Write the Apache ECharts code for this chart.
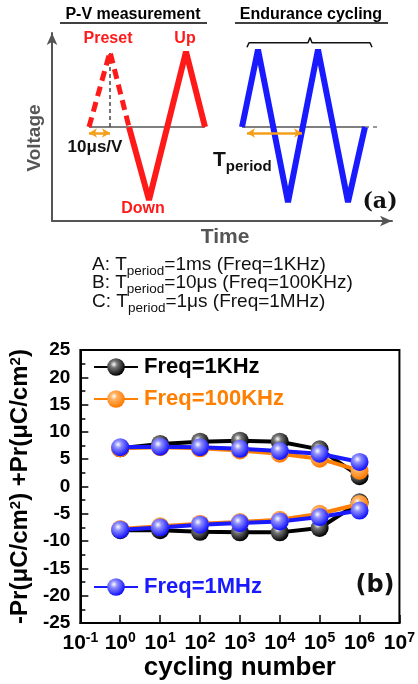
<!DOCTYPE html>
<html>
<head>
<meta charset="utf-8">
<script src="https://cdn.jsdelivr.net/npm/echarts@6/dist/echarts.min.js"></script>
<style>
html, body { margin: 0; padding: 0; background: #fff; }
#main { width: 418px; height: 684px; }
</style>
</head>
<body>
<div id="main"></div>
<script>
// (b) 数据：循环次数与剩余极化
var cycles = [1, 10, 100, 1000, 10000, 100000, 1000000];
var up1K = [7.0, 7.8, 8.2, 8.4, 8.2, 6.8, 1.9];
var down1K = [-8.0, -8.0, -8.3, -8.4, -8.4, -7.6, -2.9];
var up100K = [7.0, 7.2, 7.0, 6.6, 6.0, 5.1, 2.9];
var down100K = [-7.8, -7.3, -6.8, -6.5, -6.1, -5.0, -3.2];
var up1M = [7.2, 7.3, 7.2, 6.9, 6.5, 6.0, 4.5];
var down1M = [-7.9, -7.5, -7.0, -6.7, -6.4, -5.6, -4.4];
var legendNames = ['Freq=1KHz', 'Freq=100KHz', 'Freq=1MHz'];

// (a) 波形顶点：[时间, 电压]
var presetWave = [[1.85, 0], [2.9, 1], [3.85, 0]];
var pundWave = [[3.85, 0], [4.85, -0.97], [6.7, 1], [7.65, 0]];
var cyclingWave = [[9.5, 0], [10.3, 1.03], [11.8, -1.0], [13.3, 1.03], [14.8, -1.0], [15.65, 0]];
var pvBaseline = [[1.85, 0], [7.65, 0]];
var cycBaseline = [[9.5, 0], [15.65, 0]];
var cycBaselineTail = [[15.65, 0], [16.4, 0]];
var presetMarker = [[2.9, 0], [2.9, 1]];
var bracketPath = [[9.75, 1.06], [9.85, 1.12], [12.8, 1.12], [12.9, 1.19], [13.0, 1.12], [15.9, 1.12], [16.0, 1.06]];
var rampArrow = [1.85, 2.9, -0.08];
var periodArrow = [9.75, 12.5, -0.08];

var chart = echarts.init(document.getElementById('main'));

function pairs(xs, ys) {
    return xs.map(function (x, i) { return [x, ys[i]]; });
}

// 球形标记
function sphere(light, base) {
    return {
        type: 'radial', x: 0.38, y: 0.35, r: 0.65,
        colorStops: [
            {offset: 0, color: '#ffffff'},
            {offset: 0.3, color: light},
            {offset: 1, color: base}
        ]
    };
}

function cycSeries(name, ys, lineColor, light, base) {
    return {
        name: name,
        type: 'line',
        xAxisIndex: 1,
        yAxisIndex: 1,
        data: pairs(cycles, ys),
        symbol: 'circle',
        symbolSize: 18,
        lineStyle: {color: lineColor, width: 4},
        itemStyle: {color: sphere(light, base)},
        silent: true
    };
}

function waveSeries(data, color, width, type) {
    return {
        type: 'line',
        xAxisIndex: 0,
        yAxisIndex: 0,
        data: data,
        symbol: 'none',
        lineStyle: {color: color, width: width, type: type || 'solid'},
        silent: true
    };
}

function arrowSeries(a) {
    return {
        type: 'line',
        xAxisIndex: 0,
        yAxisIndex: 0,
        data: [],
        markLine: {
            silent: true,
            symbol: ['arrow', 'arrow'],
            symbolSize: [7, 8],
            label: {show: false},
            lineStyle: {color: '#f5a01a', width: 2.5, type: 'solid'},
            data: [[{coord: [a[0], a[2]]}, {coord: [a[1], a[2]]}]]
        }
    };
}

var sup = {fontSize: 14, fontWeight: 'bold', fontFamily: 'Liberation Sans', verticalAlign: 'top', lineHeight: 14, color: '#000'};

var option = {
    animation: false,
    backgroundColor: '#fff',
    grid: [
        {left: 52, right: 26, top: 33, bottom: 463},
        {left: 77, right: 14, top: 350, bottom: 61, show: true, borderColor: '#000', borderWidth: 2, backgroundColor: 'transparent'}
    ],
    legend: legendNames.map(function (n, i) {
        var tops = [356, 388, 576];
        var colors = ['#000', '#ff7f00', '#1a1aff'];
        return {
            data: [n],
            left: 93,
            top: tops[i],
            padding: 0,
            itemWidth: 44,
            itemHeight: 22,
            itemGap: 0,
            selectedMode: false,
            textStyle: {fontSize: 22, fontWeight: 'bold', fontFamily: 'Liberation Sans', color: colors[i], padding: [0, 0, 0, 1]}
        };
    }),
    xAxis: [
        {
            gridIndex: 0, type: 'value', min: 0, max: 17,
            axisLine: {onZero: false, lineStyle: {color: '#555', width: 2}, symbol: ['none', 'arrow'], symbolSize: [8, 12]},
            axisTick: {show: false}, axisLabel: {show: false}, splitLine: {show: false}
        },
        {
            gridIndex: 1, type: 'log', logBase: 10, min: 0.1, max: 10000000, splitNumber: 8,
            axisLine: {onZero: false, lineStyle: {color: '#000', width: 2}},
            axisTick: {inside: true, length: 8, lineStyle: {color: '#000', width: 1.5}},
            minorTick: {show: false},
            splitLine: {show: false},
            axisLabel: {
                margin: 8,
                formatter: function (v) {
                    var e = Math.round(Math.log(v) / Math.LN10);
                    return '{b|10}{s|' + e + '}';
                },
                rich: {
                    b: {fontSize: 21, fontWeight: 'bold', fontFamily: 'Liberation Sans', lineHeight: 24, color: '#000'},
                    s: sup
                }
            },
            name: 'cycling number',
            nameLocation: 'middle',
            nameGap: 32,
            nameTextStyle: {fontSize: 26, fontWeight: 'bold', fontFamily: 'Liberation Sans', color: '#000'}
        }
    ],
    yAxis: [
        {
            gridIndex: 0, type: 'value', min: -1.25, max: 1.25,
            axisLine: {onZero: false, lineStyle: {color: '#555', width: 2}, symbol: ['none', 'arrow'], symbolSize: [8, 12]},
            axisTick: {show: false}, axisLabel: {show: false}, splitLine: {show: false}
        },
        {
            gridIndex: 1, type: 'value', min: -25, max: 25, interval: 5,
            axisLine: {onZero: false, lineStyle: {color: '#000', width: 2}},
            axisTick: {inside: true, length: 8, lineStyle: {color: '#000', width: 1.5}},
            minorTick: {show: true, splitNumber: 2, length: 5, lineStyle: {color: '#000', width: 1.5}},
            splitLine: {show: false},
            axisLabel: {fontSize: 19, fontWeight: 'bold', fontFamily: 'Liberation Sans', color: '#000', margin: 10},
            name: '-Pr(\u03bcC/cm{s|2}) +Pr(\u03bcC/cm{s|2})',
            nameLocation: 'middle',
            nameGap: 45,
            nameRotate: 90,
            nameTextStyle: {
                fontSize: 24, fontWeight: 'bold', fontFamily: 'Liberation Sans', color: '#000',
                rich: {s: {fontSize: 15, fontWeight: 'bold', fontFamily: 'Liberation Sans', verticalAlign: 'top', lineHeight: 15, color: '#000'}}
            }
        }
    ],
    series: [
        waveSeries(pvBaseline, '#555', 1.5),
        waveSeries(cycBaseline, '#555', 1.5),
        waveSeries(cycBaselineTail, '#777', 1.5, [4, 4]),
        waveSeries(presetMarker, '#444', 1.5, [4, 3]),
        waveSeries(presetWave, '#ff1a1a', 5, [10, 6]),
        waveSeries(pundWave, '#ff1a1a', 6),
        waveSeries(cyclingWave, '#1a1aff', 6),
        waveSeries(bracketPath, '#111', 1.5),
        arrowSeries(rampArrow),
        arrowSeries(periodArrow),
        cycSeries(legendNames[0], up1K, '#000', '#777', '#000'),
        cycSeries(legendNames[0], down1K, '#000', '#777', '#000'),
        cycSeries(legendNames[1], up100K, '#ff7f00', '#ffb060', '#ff7a00'),
        cycSeries(legendNames[1], down100K, '#ff7f00', '#ffb060', '#ff7a00'),
        cycSeries(legendNames[2], up1M, '#1a1aff', '#8f8fff', '#1010ff'),
        cycSeries(legendNames[2], down1M, '#1a1aff', '#8f8fff', '#1010ff')
    ],
    graphic: [
        {type: 'text', style: {text: 'P-V measurement', x: 133, y: 15, align: 'center', verticalAlign: 'middle', fontSize: 16, fontWeight: 'bold', fontFamily: 'Liberation Sans', fill: '#000'}},
        {type: 'line', shape: {x1: 60, y1: 23, x2: 207, y2: 23}, style: {stroke: '#000', lineWidth: 1.5}},
        {type: 'text', style: {text: 'Endurance cycling', x: 311, y: 15, align: 'center', verticalAlign: 'middle', fontSize: 16, fontWeight: 'bold', fontFamily: 'Liberation Sans', fill: '#000'}},
        {type: 'line', shape: {x1: 235, y1: 23, x2: 388, y2: 23}, style: {stroke: '#000', lineWidth: 1.5}},
        {type: 'text', style: {text: 'Preset', x: 108, y: 39, align: 'center', verticalAlign: 'middle', fontSize: 16, fontWeight: 'bold', fontFamily: 'Liberation Sans', fill: '#ff1a1a'}},
        {type: 'text', style: {text: 'Up', x: 185, y: 39, align: 'center', verticalAlign: 'middle', fontSize: 16, fontWeight: 'bold', fontFamily: 'Liberation Sans', fill: '#ff1a1a'}},
        {type: 'text', style: {text: 'Down', x: 143, y: 209, align: 'center', verticalAlign: 'middle', fontSize: 16, fontWeight: 'bold', fontFamily: 'Liberation Sans', fill: '#ff1a1a'}},
        {type: 'text', style: {text: '10\u03bcs/V', x: 95, y: 147, align: 'center', verticalAlign: 'middle', fontSize: 17, fontWeight: 'bold', fontFamily: 'Liberation Sans', fill: '#111'}},
        {type: 'text', style: {
            text: '{t|T}{p|period}', x: 213, y: 160, align: 'left', verticalAlign: 'middle',
            rich: {
                t: {fontSize: 21, fontWeight: 'bold', fontFamily: 'Liberation Sans', fill: '#111', lineHeight: 28},
                p: {fontSize: 15, fontWeight: 'bold', fontFamily: 'Liberation Sans', fill: '#111', lineHeight: 16, verticalAlign: 'bottom'}
            }
        }},
        {type: 'text', style: {text: '(a)', x: 380, y: 202, align: 'center', verticalAlign: 'middle', fontSize: 22, fontWeight: 'bold', fontFamily: 'DejaVu Serif', fill: '#111'}},
        {type: 'text', rotation: Math.PI / 2, x: 35, y: 138, style: {text: 'Voltage', x: 0, y: 0, align: 'center', verticalAlign: 'middle', fontSize: 19, fontWeight: 'bold', fontFamily: 'Liberation Sans', fill: '#555'}},
        {type: 'text', style: {text: 'Time', x: 225, y: 237, align: 'center', verticalAlign: 'middle', fontSize: 21, fontWeight: 'bold', fontFamily: 'Liberation Sans', fill: '#555'}},
        {type: 'text', style: {
            text: '{n|A: T}{s|period}{n|=1ms (Freq=1KHz)}', x: 92, y: 265, align: 'left', verticalAlign: 'middle',
            rich: {
                n: {fontSize: 19, fontFamily: 'Liberation Sans', fill: '#111', lineHeight: 26},
                s: {fontSize: 13.5, fontFamily: 'Liberation Sans', fill: '#111', lineHeight: 14, verticalAlign: 'bottom'}
            }
        }},
        {type: 'text', style: {
            text: '{n|B: T}{s|period}{n|=10\u03bcs (Freq=100KHz)}', x: 92, y: 283, align: 'left', verticalAlign: 'middle',
            rich: {
                n: {fontSize: 19, fontFamily: 'Liberation Sans', fill: '#111', lineHeight: 26},
                s: {fontSize: 13.5, fontFamily: 'Liberation Sans', fill: '#111', lineHeight: 14, verticalAlign: 'bottom'}
            }
        }},
        {type: 'text', style: {
            text: '{n|C: T}{s|period}{n|=1\u03bcs (Freq=1MHz)}', x: 92, y: 302, align: 'left', verticalAlign: 'middle',
            rich: {
                n: {fontSize: 19, fontFamily: 'Liberation Sans', fill: '#111', lineHeight: 26},
                s: {fontSize: 13.5, fontFamily: 'Liberation Sans', fill: '#111', lineHeight: 14, verticalAlign: 'bottom'}
            }
        }},
        {type: 'text', style: {text: '(b)', x: 375, y: 586, align: 'center', verticalAlign: 'middle', fontSize: 24, fontWeight: 'bold', fontFamily: 'DejaVu Sans', fill: '#111'}}
    ]
};

chart.setOption(option);

window.addEventListener('resize', function () {
    chart.resize();
});
</script>
</body>
</html>
